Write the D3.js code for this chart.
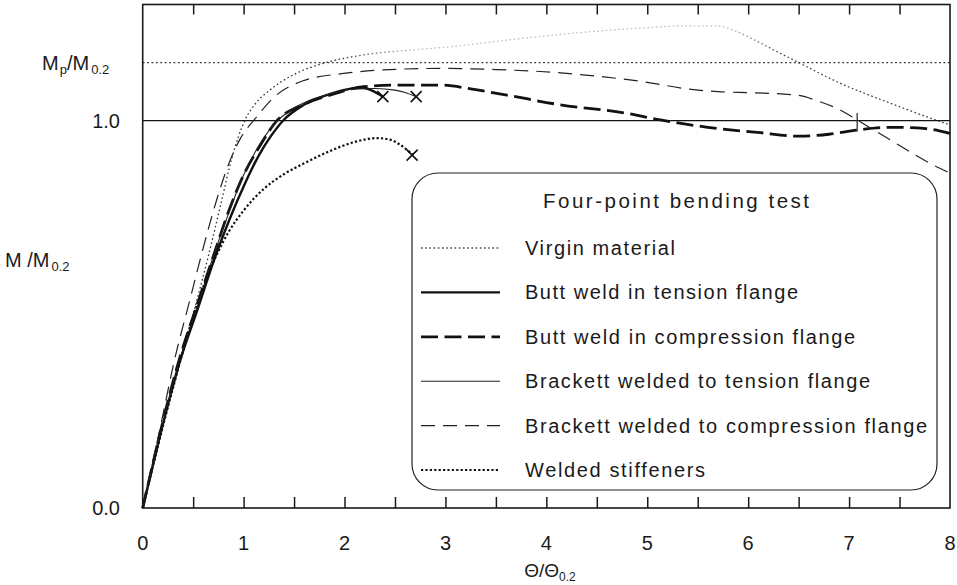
<!DOCTYPE html>
<html><head><meta charset="utf-8">
<script src="https://cdn.jsdelivr.net/npm/d3@7"></script>
<style>
body{margin:0;background:#fff}
svg{display:block}
text{font-family:"Liberation Sans",Arial,sans-serif;fill:#1a1a1a}
</style>
</head><body>
<svg id="chart" width="957" height="585"></svg>
<script>
// ---------- data ----------
const xTickValues = [0,1,2,3,4,5,6,7,8];
const minorTickValues = [0.5,1,1.5,2,2.5,3,3.5,4,4.5,5,5.5,6,6.5,7,7.5];
const yTickLabels = [[0,"0.0"],[1,"1.0"]];
const plasticRatio = 1.15;   // Mp/M0.2
const unityLevel = 1.0;

const virgin = [[0,0],[0.3,0.31],[0.5,0.5],[0.65,0.65],[0.77,0.78],[0.88,0.9],[1.01,1.0],[1.12,1.045],[1.26,1.079],[1.52,1.122],[1.79,1.148],[2.19,1.17],[2.68,1.183],[3.05,1.191],[3.61,1.208],[4.27,1.226],[4.93,1.239],[5.4,1.245],[5.69,1.245],[5.85,1.234],[6.05,1.21],[6.25,1.183],[6.47,1.154],[6.91,1.097],[7.41,1.045],[7.77,1.01],[8.0,0.989]];
const buttTension = [[0,0],[0.37,0.38],[0.54,0.51],[0.7,0.635],[0.86,0.745],[1.0,0.83],[1.15,0.91],[1.27,0.96],[1.39,1.0],[1.59,1.04],[1.86,1.069],[2.05,1.082],[2.18,1.085],[2.28,1.077],[2.38,1.062]];
const buttCompression = [[0,0],[0.37,0.39],[0.54,0.525],[0.7,0.65],[0.85,0.765],[1.0,0.86],[1.15,0.93],[1.33,1.0],[1.59,1.041],[1.92,1.071],[2.19,1.088],[2.55,1.092],[2.95,1.092],[3.3,1.08],[3.61,1.066],[4.14,1.041],[4.8,1.019],[5.13,1.002],[5.6,0.983],[6.12,0.969],[6.5,0.96],[6.8,0.965],[7.08,0.976],[7.41,0.983],[7.74,0.98],[8.0,0.967]];
const brackettTension = [[0,0],[0.37,0.385],[0.54,0.52],[0.7,0.65],[0.85,0.76],[1.0,0.86],[1.15,0.935],[1.3,0.99],[1.45,1.025],[1.65,1.052],[1.9,1.072],[2.1,1.082],[2.3,1.083],[2.5,1.079],[2.6,1.073],[2.71,1.062]];
const brackettCompression = [[0,0],[0.2,0.24],[0.3,0.365],[0.47,0.54],[0.65,0.72],[0.75,0.81],[0.87,0.9],[0.97,0.955],[1.13,1.01],[1.29,1.058],[1.59,1.103],[1.99,1.122],[2.38,1.131],[2.95,1.135],[3.5,1.132],[3.94,1.127],[4.5,1.115],[4.95,1.101],[5.46,1.08],[5.7,1.075],[6.05,1.072],[6.48,1.066],[6.7,1.05],[6.91,1.028],[7.08,1.002],[7.41,0.95],[7.9,0.877],[8.0,0.865]];
const stiffeners = [[0,0],[0.3,0.31],[0.55,0.535],[0.7,0.635],[0.85,0.712],[1.0,0.768],[1.2,0.824],[1.4,0.862],[1.6,0.89],[1.86,0.922],[2.1,0.945],[2.32,0.955],[2.45,0.951],[2.55,0.938],[2.68,0.911]];
const failurePoints = [[2.38,1.062],[2.71,1.062],[2.67,0.911]];
const endMark = [[7.08,1.02],[7.08,0.972]];

const legendTitle = "Four-point bending test";
const seriesNames = ["Virgin material","Butt weld in tension flange","Butt weld in compression flange","Brackett welded to tension flange","Brackett welded to compression flange","Welded stiffeners"];

// ---------- layout ----------
const svg = d3.select("#chart");
const L = 142.7, R = 950, T = 4.5, B = 508;
const x = d3.scaleLinear().domain([0,8]).range([L,R]);
const y = d3.scaleLinear().domain([0,1.3]).range([B,T]);

const styles = [
  {data: virgin, w:1.3, dash:"1.6,2.6", color:"url(#virginGrad)", legColor:"#444"},
  {data: buttTension, w:2.4, dash:null, color:"#111"},
  {data: buttCompression, w:2.8, dash:"17,6.5", color:"#111"},
  {data: brackettTension, w:1.1, dash:null, color:"#222"},
  {data: brackettCompression, w:1.2, dash:"14,8", color:"#222"},
  {data: stiffeners, w:2.2, dash:"2.2,2.2", color:"#111"}
];

// gradient for the faded virgin curve
const defs = svg.append("defs");
const g = defs.append("linearGradient").attr("id","virginGrad")
  .attr("gradientUnits","userSpaceOnUse").attr("x1",x(0)).attr("x2",x(8)).attr("y1",0).attr("y2",0);
[[0,"#333"],[1.9,"#333"],[2.7,"#bdbdbd"],[5.8,"#bdbdbd"],[6.3,"#444"],[8,"#333"]].forEach(([v,c])=>{
  g.append("stop").attr("offset",(x(v)-x(0))/(x(8)-x(0))).attr("stop-color",c);
});

// reference lines
svg.append("line").attr("x1",x(0)).attr("x2",x(8)).attr("y1",y(plasticRatio)).attr("y2",y(plasticRatio))
  .attr("stroke","#333").attr("stroke-width",1.3).attr("stroke-dasharray","1.8,2.6");
svg.append("line").attr("x1",x(0)).attr("x2",x(8)).attr("y1",y(unityLevel)).attr("y2",y(unityLevel))
  .attr("stroke","#111").attr("stroke-width",1.3);

// curves
const line = d3.line().x(d=>x(d[0])).y(d=>y(d[1])).curve(d3.curveMonotoneX);
styles.forEach(s=>{
  svg.append("path").attr("d",line(s.data)).attr("fill","none")
    .attr("stroke",s.color).attr("stroke-width",s.w)
    .attr("stroke-dasharray",s.dash).attr("stroke-linecap","butt");
});
svg.append("path").attr("d",d3.line().x(d=>x(d[0])).y(d=>y(d[1]))(endMark))
  .attr("stroke","#222").attr("stroke-width",1.2).attr("fill","none");

// failure markers
failurePoints.forEach(p=>{
  const cx=x(p[0]), cy=y(p[1]), r=5.5;
  svg.append("path").attr("d",`M${cx-r},${cy-r}L${cx+r},${cy+r}M${cx-r},${cy+r}L${cx+r},${cy-r}`)
    .attr("stroke","#111").attr("stroke-width",1.6).attr("fill","none");
});

// frame and ticks
svg.append("rect").attr("x",L).attr("y",T).attr("width",R-L).attr("height",B-T)
  .attr("fill","none").attr("stroke","#1a1a1a").attr("stroke-width",1.6);
const bottomAxis = d3.axisBottom(x).tickValues(minorTickValues).tickSizeInner(-11).tickSizeOuter(0).tickFormat("");
svg.append("g").attr("transform",`translate(0,${B})`).call(bottomAxis)
  .call(a=>a.select(".domain").remove()).selectAll("line").attr("stroke","#1a1a1a").attr("stroke-width",1.5);
const topAxis = d3.axisTop(x).tickValues(minorTickValues).tickSizeInner(-10).tickSizeOuter(0).tickFormat("");
svg.append("g").attr("transform",`translate(0,${T})`).call(topAxis)
  .call(a=>a.select(".domain").remove()).selectAll("line").attr("stroke","#1a1a1a").attr("stroke-width",1.5);

// tick labels
svg.append("g").selectAll("text").data(xTickValues).join("text")
  .attr("x",d=>x(d)).attr("y",543).attr("dy","0.35em").attr("text-anchor","middle")
  .attr("font-size",20).text(d=>d);
svg.append("g").selectAll("text").data(yTickLabels).join("text")
  .attr("x",120).attr("y",d=>y(d[0])).attr("dy","0.35em").attr("text-anchor","end")
  .attr("font-size",20).text(d=>d[1]);

// axis labels
const mp = svg.append("text").attr("x",42).attr("y",y(plasticRatio)).attr("dy","0.35em").attr("font-size",20);
mp.append("tspan").text("M");
mp.append("tspan").attr("font-size",13).attr("dx","1").attr("dy","4").text("p");
mp.append("tspan").attr("dy","-4").text("/M");
mp.append("tspan").attr("font-size",13).attr("dx","2").attr("dy","4").text("0.2");

const ml = svg.append("text").attr("x",5).attr("y",260).attr("dy","0.35em").attr("font-size",20);
ml.append("tspan").text("M /M");
ml.append("tspan").attr("font-size",13).attr("dx","2").attr("dy","4").text("0.2");

const xl = svg.append("text").attr("x",550).attr("y",570).attr("dy","0.35em").attr("text-anchor","middle").attr("font-size",19);
xl.append("tspan").text("Θ/Θ");
xl.append("tspan").attr("font-size",12).attr("dy","4").text("0.2");

// legend
const lg = svg.append("g");
lg.append("rect").attr("x",412).attr("y",173).attr("width",525).attr("height",317).attr("rx",26)
  .attr("fill","#fff").attr("stroke","#222").attr("stroke-width",1.2);
lg.append("text").attr("x",676).attr("y",201).attr("dy","0.35em").attr("text-anchor","middle")
  .attr("font-size",20.5).attr("textLength",266).attr("lengthAdjust","spacing").text(legendTitle);
const textWidths = [150,273,330,345,402,180];
seriesNames.forEach((name,i)=>{
  const yy = 248 + i*44.4;
  const s = styles[i];
  lg.append("line").attr("x1",421).attr("x2",500).attr("y1",yy).attr("y2",yy)
    .attr("stroke",s.legColor||s.color).attr("stroke-width",s.w).attr("stroke-dasharray",s.dash);
  lg.append("text").attr("x",525).attr("y",yy).attr("dy","0.35em").attr("font-size",20)
    .attr("textLength",textWidths[i]).attr("lengthAdjust","spacing").text(name);
});
</script>
</body></html>
